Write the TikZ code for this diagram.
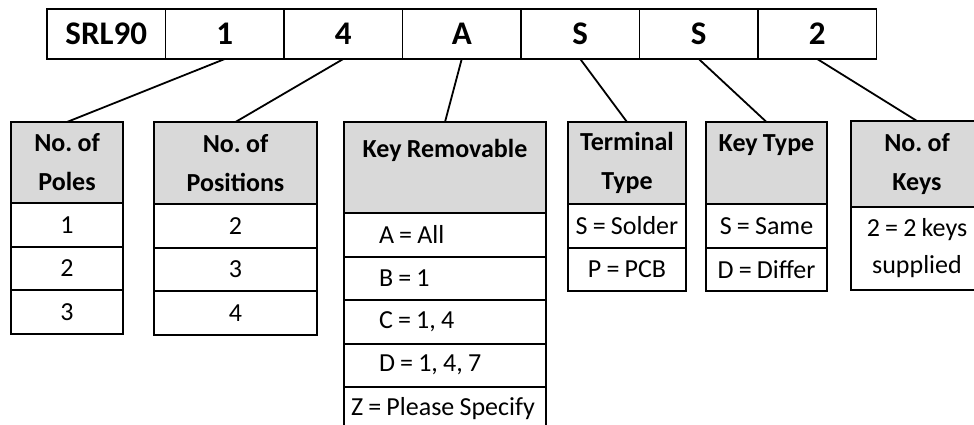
\documentclass[tikz,border=0pt]{standalone}
\usepackage{fontspec}
\setmainfont{Carlito}
\usetikzlibrary{positioning}

\definecolor{headgray}{RGB}{217,217,217}
\newcommand{\tightwords}{\frenchspacing\spaceskip=5.2pt plus 1pt\relax}
\newcommand{\leftrow}[1]{\makebox[192pt][l]{#1}}

\begin{document}
\begin{tikzpicture}[x=1pt, y=-1pt, node distance=0pt]
      \tikzset{
        part/.style={draw, line width=1.6pt, outer sep=0pt, inner sep=0pt,
          minimum width=118.5pt, minimum height=50pt,
          font=\fontsize{33}{38}\selectfont\bfseries},
        head/.style={draw, fill=headgray, line width=2pt, outer sep=0pt,
          align=center, font=\fontsize{26}{39}\selectfont\bfseries\tightwords},
        entry/.style={draw, line width=2pt, outer sep=0pt, align=center,
          minimum height=43.5pt,
          font=\fontsize{26}{37}\selectfont\tightwords},
        entryleft/.style={entry, inner xsep=5pt, minimum width=202pt},
        link/.style={line width=1.8pt}
      }

      \useasboundingbox (0,0) rectangle (974,425);
      \clip (0,0) rectangle (974,425);

      % Part number bar along the top.
      \node[part, anchor=north west] (c0) at (47,9) {SRL90};
      \node[part, right=of c0] (c1) {1};
      \node[part, right=of c1] (c2) {4};
      \node[part, right=of c2] (c3) {A};
      \node[part, right=of c3] (c4) {S};
      \node[part, right=of c4] (c5) {S};
      \node[part, right=of c5] (c6) {2};

      % No. of poles.
      \node[head, anchor=north west, minimum width=112pt, minimum height=81pt]
        (poles) at (11,122) {No. of\\Poles};
      \node[entry, minimum width=112pt, below=of poles] (poles1) {1};
      \node[entry, minimum width=112pt, below=of poles1] (poles2) {2};
      \node[entry, minimum width=112pt, below=of poles2] (poles3) {3};

      % No. of positions.
      \node[head, anchor=north west, minimum width=163pt, minimum height=82pt]
        (posn) at (154,122) {No. of\\Positions};
      \node[entry, minimum width=163pt, below=of posn] (posn1) {2};
      \node[entry, minimum width=163pt, below=of posn1] (posn2) {3};
      \node[entry, minimum width=163pt, below=of posn2] (posn3) {4};

      % Key removable.
      \node[head, anchor=north west, minimum width=202pt, minimum height=91pt]
        (keyrem) at (344,122) {Key Removable\\\mbox{}};
      \node[entryleft, below=of keyrem] (keyrem1) {\leftrow{\hspace*{30pt}A = All}};
      \node[entryleft, below=of keyrem1] (keyrem2) {\leftrow{\hspace*{30pt}B = 1}};
      \node[entryleft, below=of keyrem2] (keyrem3) {\leftrow{\hspace*{30pt}C = 1, 4}};
      \node[entryleft, below=of keyrem3] (keyrem4) {\leftrow{\hspace*{30pt}D = 1, 4, 7}};
      \node[entryleft, below=of keyrem4] (keyrem5) {\leftrow{\hspace*{2pt}Z = Please Specify}};

      % Terminal type.
      \node[head, anchor=north west, minimum width=118pt, minimum height=82pt]
        (term) at (568,122) {Terminal\\Type};
      \node[entry, minimum width=118pt, below=of term] (term1) {S = Solder};
      \node[entry, minimum width=118pt, below=of term1] (term2) {P = PCB};

      % Key type.
      \node[head, anchor=north west, minimum width=121pt, minimum height=82pt]
        (ktype) at (706,122) {Key Type\\\mbox{}};
      \node[entry, minimum width=121pt, below=of ktype] (ktype1) {S = Same};
      \node[entry, minimum width=121pt, below=of ktype1] (ktype2) {D = Differ};

      % No. of keys (runs off the right edge).
      \node[head, anchor=north west, minimum width=132pt, minimum height=86pt]
        (nkeys) at (851,121) {No. of\\Keys};
      \node[entry, minimum width=132pt, minimum height=83pt, below=of nkeys]
        (nkeys1) {2 = 2 keys\\supplied};

      % Lines from each code letter down to its table.
      \path[link]
        (c1.south) edge (poles.north)
        (c2.south) edge (posn.north)
        (c3.south) edge (keyrem.north)
        (c4.south) edge (term.north)
        (c5.south) edge (ktype.north)
        (c6.south) edge (nkeys.north);
    \end{tikzpicture}
\end{document}
